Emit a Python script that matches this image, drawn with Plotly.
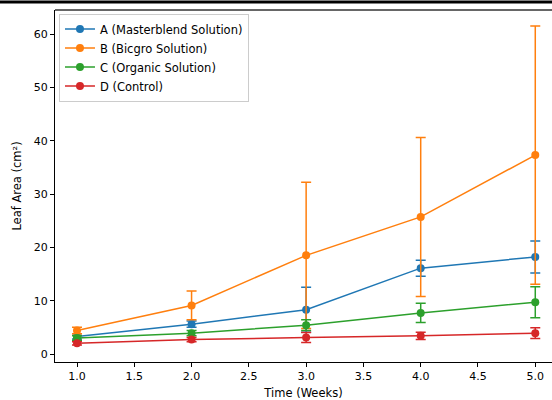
import plotly.graph_objects as go

weeks = [1, 2, 3, 4, 5]
labels = ["A (Masterblend Solution)", "B (Bicgro Solution)", "C (Organic Solution)", "D (Control)"]
colors = ["#1f77b4", "#ff7f0e", "#2ca02c", "#d62728"]

a_mean = [3.3, 5.6, 8.3, 16.1, 18.2]
a_err = [0.5, 0.6, 4.2, 1.5, 3.0]
b_mean = [4.4, 9.1, 18.5, 25.7, 37.3]
b_err = [0.6, 2.7, 13.7, 14.9, 24.2]
c_mean = [3.0, 3.9, 5.4, 7.7, 9.7]
c_err = [0.4, 0.5, 1.0, 1.8, 2.9]
d_mean = [2.0, 2.7, 3.1, 3.4, 3.9]
d_err = [0.3, 0.4, 0.95, 0.7, 1.0]

means = [a_mean, b_mean, c_mean, d_mean]
errs = [a_err, b_err, c_err, d_err]

xticks = [1.0, 1.5, 2.0, 2.5, 3.0, 3.5, 4.0, 4.5, 5.0]
yticks = [0, 10, 20, 30, 40, 50, 60]

fig = go.Figure()
for lab, col, m, e in zip(labels, colors, means, errs):
    fig.add_trace(go.Scatter(
        x=weeks, y=m, name=lab, mode="lines+markers",
        line=dict(color=col, width=1.5),
        marker=dict(color=col, size=8),
        error_y=dict(type="data", array=e, visible=True, color=col, thickness=1.5, width=5),
    ))

fig.update_layout(
    width=552, height=400,
    margin=dict(l=55, r=0, t=10, b=38, autoexpand=False),
    paper_bgcolor="white", plot_bgcolor="white",
    font=dict(family="DejaVu Sans", size=11, color="black"),
    showlegend=True,
    legend=dict(x=0.008, y=0.99, xanchor="left", yanchor="top",
                bgcolor="rgba(255,255,255,0.8)", bordercolor="#cccccc", borderwidth=1,
                font=dict(size=11.5), tracegroupgap=0),
    xaxis=dict(range=[0.808, 5.146], tickvals=xticks, tickformat=".1f",
               automargin=False,
               showgrid=False, zeroline=False, showline=True, linecolor="black", linewidth=1,
               mirror=False, ticks="outside", ticklen=4, tickcolor="black",
               tickfont=dict(size=11),
               title=dict(text="Time (Weeks)", font=dict(size=11.5), standoff=6)),
    yaxis=dict(range=[-1.5, 64.5], tickvals=yticks,
               automargin=False,
               showgrid=False, zeroline=False, showline=True, linecolor="black", linewidth=1,
               mirror=False, ticks="outside", ticklen=4, tickcolor="black",
               tickfont=dict(size=11),
               title=dict(text="Leaf Area (cm²)", font=dict(size=11.5), standoff=9)),
    shapes=[
        dict(type="line", xref="paper", yref="paper", x0=0, x1=1.05, y0=1, y1=1,
             line=dict(color="#333333", width=1.5)),
        dict(type="rect", xref="paper", yref="paper", x0=-0.111, x1=1.0, y0=1.0185, y1=1.027,
             line=dict(width=0), fillcolor="black", layer="above"),
    ],
)

fig.write_html("out.html", config={"displayModeBar": False},
               post_script="document.body.style.margin='0';document.body.style.overflow='hidden';")
